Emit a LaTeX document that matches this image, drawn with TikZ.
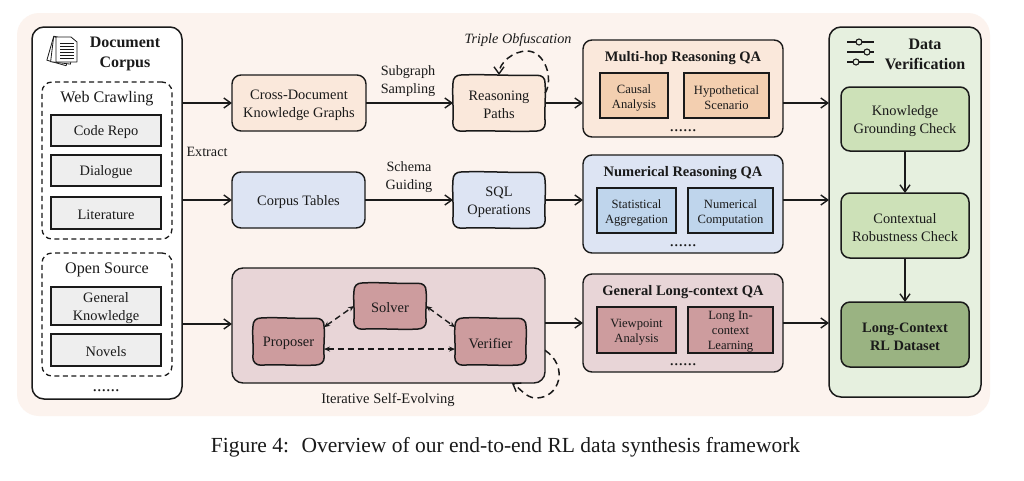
\documentclass[tikz,border=0pt]{standalone}
\usepackage{fontspec}
\setmainfont{Liberation Serif}
\usetikzlibrary{arrows.meta}
\definecolor{bgc}{HTML}{FCF3EE}
\definecolor{orgA}{HTML}{FAE8DB}
\definecolor{orgB}{HTML}{F3CFB0}
\definecolor{bluA}{HTML}{DDE4F3}
\definecolor{bluB}{HTML}{BFD5EC}
\definecolor{redA}{HTML}{E8D5D7}
\definecolor{redB}{HTML}{CD9C9E}
\definecolor{grnA}{HTML}{E6F0DF}
\definecolor{grnB}{HTML}{CDE1B8}
\definecolor{grnC}{HTML}{9AB382}
\definecolor{gryA}{HTML}{EEEEEE}
\definecolor{ink}{HTML}{1A1A1A}
% box node, then its text as a node of its own set 2px lower than the box centre
\newcommand{\bx}[7]{%
  \pgfmathsetmacro\bcx{(#2+#4)/2}\pgfmathsetmacro\bcy{(#3+#5)/2}%
  \pgfmathsetmacro\bty{\bcy+2}%
  \pgfmathsetmacro\bw{#4-#2}\pgfmathsetmacro\bh{#5-#3}%
  \node[#6,minimum width=\bw pt,minimum height=\bh pt] (#1) at (\bcx,\bcy) {};
  \node[#6,draw=none,fill=none] (#1text) at (\bcx,\bty) {#7};}
% hand-drawn rounded box: wavy outline under a borderless node
\newcommand{\skbx}[6]{%
  \pgfmathsetmacro\sl{#2}\pgfmathsetmacro\st{#3}\pgfmathsetmacro\sr{#4}\pgfmathsetmacro\sb{#5}%
  \pgfmathsetmacro\sw{(\sr-\sl)/3}\pgfmathsetmacro\sh{(\sb-\st)/3}%
  \path[fill=#6,draw=ink,line width=1.5pt,line join=round]
    ({\sl+8},\st) .. controls ({\sl+\sw},{\st-1.1}) and ({\sr-\sw},{\st+1.1}) .. ({\sr-8},{\st+0.3})
    .. controls ({\sr-3},{\st+0.2}) and ({\sr+0.3},{\st+3}) .. (\sr,{\st+8})
    .. controls ({\sr+1.1},{\st+\sh}) and ({\sr-0.9},{\sb-\sh}) .. ({\sr+0.2},{\sb-8})
    .. controls ({\sr+0.2},{\sb-3}) and ({\sr-3},{\sb-0.2}) .. ({\sr-8},\sb)
    .. controls ({\sr-\sw},{\sb+1.1}) and ({\sl+\sw},{\sb-1.0}) .. ({\sl+8},{\sb+0.2})
    .. controls ({\sl+3},{\sb+0.2}) and ({\sl-0.2},{\sb-3}) .. ({\sl-0.2},{\sb-8})
    .. controls ({\sl+0.9},{\sb-\sh}) and ({\sl-1},{\st+\sh}) .. (\sl,{\st+8})
    .. controls (\sl,{\st+3}) and ({\sl+3},{\st}) .. cycle;
  \bx{#1}{#2}{#3}{#4}{#5}{base,draw=none,font=\fontsize{14.4}{18}\selectfont}}
\tikzset{
  base/.style={draw=ink,inner sep=0pt,outer sep=0pt,align=center,text=ink},
  panel/.style={base,line width=1.5pt,rounded corners=12pt},
  soft/.style={base,line width=1.4pt,rounded corners=9pt,font=\fontsize{14.4}{18}\selectfont},
  inner/.style={base,line width=1.7pt,font=\fontsize{12.6}{15}\selectfont},
  src/.style={base,line width=1.7pt,fill=gryA,font=\fontsize{14.4}{18}\selectfont},
  group/.style={base,line width=1.3pt,dash pattern=on 5pt off 3.5pt,rounded corners=10pt},
  title/.style={inner sep=0pt,align=center,text=ink,font=\fontsize{14.5}{18}\selectfont\bfseries},
  bigtitle/.style={inner sep=0pt,align=center,text=ink,font=\fontsize{16}{20}\selectfont\bfseries},
  label/.style={inner sep=0pt,align=center,text=ink,font=\fontsize{14.2}{18}\selectfont},
  heading/.style={label,font=\fontsize{16.1}{18}\selectfont},
  dots/.style={label,font=\fontsize{18}{18}\selectfont},
  flow/.style={draw=ink,line width=1.5pt,-{Straight Barb[length=7pt,width=10pt,line width=1.4pt]}},
  loopflow/.style={flow,dash pattern=on 7pt off 4.5pt},
  duo/.style={draw=ink,line width=1.4pt,dash pattern=on 6pt off 4pt,{Stealth[length=6pt,width=5pt]}-{Stealth[length=6pt,width=5pt]}},
  page/.style={draw=ink,line width=0.8pt,fill=white,line join=round},
}
\begin{document}
\begin{tikzpicture}[x=1pt,y=-1pt]
\useasboundingbox (0,0) rectangle (1024,480);
\fill[white] (0,0) rectangle (1024,480);
\fill[bgc,rounded corners=22pt] (17,13) rectangle (990,416);

% document corpus
\bx{corpus}{32}{27}{182}{399}{panel,fill=white}{}
\node[bigtitle] (corpustitle) at (125,54) {Document\\Corpus};
\bx{web}{42}{82}{172}{239}{group}{}
\node[heading] (webtitle) at (107,99) {Web Crawling};
\bx{code}{51}{115}{161}{146}{src}{Code Repo}
\bx{dialogue}{51}{155}{161}{186}{src}{Dialogue}
\bx{lit}{51}{197}{161}{229}{src}{Literature}
\bx{open}{42}{253}{172}{376}{group}{}
\node[heading] (opentitle) at (107,270) {Open Source};
\bx{general}{51}{287}{161}{325}{src}{General\\Knowledge}
\bx{novels}{51}{334}{161}{366}{src}{Novels}
\node[dots] (corpusdots) at (106,391) {......};

% document icon
\begin{scope}[shift={(62,51)}]
  \draw[page,rotate=-16] (-12,-12) rectangle (8,13);
  \draw[page,rotate=-7] (-10,-13) rectangle (10,12);
  \draw[page] (-6,-14) -- (9,-14) -- (15,-9) -- (15,11) -- (-6,11) -- cycle;
  \foreach \yy in {-8,-5,-2,1,4,7} \draw[ink,line width=0.8pt] (-2,\yy) -- (12,\yy);
\end{scope}

% row nodes
\bx{cross}{232}{75}{366}{131}{soft,fill=orgA}{Cross-Document\\Knowledge Graphs}
\bx{tables}{232}{172}{365}{228}{soft,fill=bluA}{Corpus Tables}
\bx{evolve}{232}{268}{545}{383}{soft,rounded corners=11pt,fill=redA}{}
\skbx{paths}{453}{75}{545}{131}{orgA}{Reasoning\\Paths}
\skbx{sql}{453}{172}{545}{228}{bluA}{SQL\\Operations}
\skbx{proposer}{253}{318}{324}{365}{redB}{Proposer}
\skbx{solver}{354}{283}{426}{329}{redB}{Solver}
\skbx{verifier}{455}{318}{526}{365}{redB}{Verifier}

% QA panels
\bx{qaone}{583}{40}{783}{137}{soft,fill=orgA}{}
\node[title] (qaonetitle) at (683,58) {Multi-hop Reasoning QA};
\bx{causal}{600}{73}{668}{118}{inner,fill=orgB}{Causal\\Analysis}
\bx{hypo}{684}{73}{769}{118}{inner,fill=orgB}{Hypothetical\\Scenario}
\node[dots] (qaonedots) at (683,131) {......};
\bx{qatwo}{583}{155}{783}{253}{soft,fill=bluA}{}
\node[title] (qatwotitle) at (683,173) {Numerical Reasoning QA};
\bx{stat}{597}{188}{676}{233}{inner,fill=bluB}{Statistical\\Aggregation}
\bx{numc}{688}{188}{773}{233}{inner,fill=bluB}{Numerical\\Computation}
\node[dots] (qatwodots) at (683,246) {......};
\bx{qathree}{583}{274}{783}{372}{soft,fill=redA}{}
\node[title] (qathreetitle) at (683,292) {General Long-context QA};
\bx{view}{597}{307}{676}{353}{inner,fill=redB}{Viewpoint\\Analysis}
\bx{longin}{688}{307}{773}{353}{inner,fill=redB}{Long In-\\context\\Learning}
\node[dots] (qathreedots) at (683,365) {......};

% verification
\bx{verif}{829}{27}{981}{397}{panel,fill=grnA}{}
\node[bigtitle] (veriftitle) at (925,54) {Data\\Verification};
\bx{know}{841}{87}{969}{151}{soft,line width=1.5pt,fill=grnB}{Knowledge\\Grounding Check}
\bx{context}{841}{193}{969}{258}{soft,line width=1.5pt,fill=grnB}{Contextual\\Robustness Check}
\bx{final}{841}{302}{969}{367}{soft,line width=1.5pt,fill=grnC,font=\fontsize{14.4}{18}\selectfont\bfseries}{Long-Context\\RL Dataset}

% sliders icon
\foreach \yy/\xx in {42/859,52/867,62/856}{
  \draw[ink,line width=1.1pt] (847,\yy) -- (874,\yy);
  \draw[ink,line width=1.1pt,fill=grnA] (\xx,\yy) circle (3pt);
}

% labels
\node[label] (extract) at (207,152) {Extract};
\node[label] (subgraph) at (408,81) {Subgraph\\Sampling};
\node[label] (schema) at (409,177) {Schema\\Guiding};
\node[label,font=\fontsize{14.2}{18}\selectfont\itshape] (triple) at (518,40) {Triple Obfuscation};
\node[label,font=\fontsize{14.5}{18}\selectfont] (iter) at (388,400) {Iterative Self-Evolving};
\node[inner sep=0pt,text=ink,font=\fontsize{21.5}{24}\selectfont] (caption) at (505.5,447) {Figure 4:\hspace{0.25em} Overview of our end-to-end RL data synthesis framework};

% connectors
\draw[flow] (corpus.east |- cross.west) -- (cross.west);
\draw[flow] (corpus.east |- tables.west) -- (tables.west);
\draw[flow] (corpus.east |- 0,324) -- (evolve.west |- 0,324);
\draw[flow] (cross.east) -- (paths.west);
\draw[flow] (tables.east) -- (sql.west);
\draw[flow] (paths.east) -- (qaone.west |- paths.east);
\draw[flow] (sql.east) -- (qatwo.west |- sql.east);
\draw[flow] (evolve.east |- 0,323) -- (qathree.west |- 0,323);
\draw[flow] (qaone.east |- 0,103) -- (verif.west |- 0,103);
\draw[flow] (qatwo.east |- 0,200) -- (verif.west |- 0,200);
\draw[flow] (qathree.east |- 0,323) -- (verif.west |- 0,323);
\draw[flow] (know) -- (context);
\draw[flow] (context) -- (final);
\draw[duo] (proposer.22) -- (solver.west);
\draw[duo] (solver.east) -- (verifier.158);
\draw[duo] (proposer.-12) -- (verifier.192);
\coordinate (looptop) at (527,51);
\draw[loopflow] (paths.12) .. controls +(9,-14) and +(18,0) .. (looptop) .. controls +(-14,0) and +(0,-12) .. (paths.north);
\coordinate (loopbot) at (536,398);
\draw[loopflow] (evolve.-9) .. controls +(24,16) and +(24,0) .. (loopbot) .. controls +(-10,0) and +(8,5) .. (evolve.-25.5);
\end{tikzpicture}
\end{document}
